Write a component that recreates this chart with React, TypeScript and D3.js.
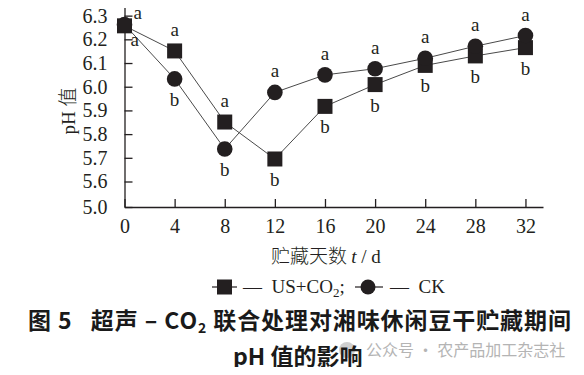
import { useEffect, useRef } from 'react';
import * as d3 from 'd3';

// storage days
const days = [0, 4, 8, 12, 16, 20, 24, 28, 32];
// pH values
const usCo2 = [6.257, 6.151, 5.851, 5.695, 5.917, 6.009, 6.09, 6.13, 6.165];
const ck = [6.262, 6.033, 5.737, 5.976, 6.05, 6.076, 6.12, 6.171, 6.216];
// significance letters
const usCo2Sig = ['a', 'a', 'a', 'b', 'b', 'b', 'b', 'b', 'b'];
const ckSig = ['a', 'b', 'b', 'a', 'a', 'a', 'a', 'a', 'a'];
const yTicks = [5.0, 5.6, 5.7, 5.8, 5.9, 6.0, 6.1, 6.2, 6.3];

const INK = '#231f20';
const SERIF = '"Liberation Serif", "Times New Roman", serif';
const CJK = '"Noto Sans CJK SC", "Noto Sans", sans-serif';
const SP = '\u00a0';

const Chart = () => {
  const svgRef = useRef(null);

  useEffect(() => {
    const svg = d3.select(svgRef.current);
    svg.selectAll('*').remove();

    const x = d3.scaleLinear().domain([0, 33.4]).range([124.5, 543]);
    // broken axis: 5.0 sits just below 5.6
    const y = d3.scaleLinear().domain([5.0, 5.6, 6.366]).range([207, 181.5, 0]);

    const xAxis = d3.axisBottom(x)
      .tickValues(days)
      .tickFormat(d3.format('d'))
      .tickSizeInner(-8)
      .tickSizeOuter(0)
      .tickPadding(12);
    const yAxis = d3.axisLeft(y)
      .tickValues(yTicks)
      .tickFormat(d3.format('.1f'))
      .tickSizeInner(-8)
      .tickSizeOuter(0)
      .tickPadding(17);

    const gx = svg.append('g').attr('transform', 'translate(0,207)').call(xAxis);
    const gy = svg.append('g').attr('transform', 'translate(124.5,0)').call(yAxis);
    [gx, gy].forEach(g => {
      g.selectAll('path, line').attr('stroke', INK).attr('stroke-width', 1.3);
      g.selectAll('text')
        .attr('fill', INK)
        .style('font-family', SERIF)
        .style('font-size', '20px');
    });

    const series = [
      { name: 'us', values: usCo2, sig: usCo2Sig, shape: 'square' },
      { name: 'ck', values: ck, sig: ckSig, shape: 'circle' },
    ];

    const line = d3.line()
      .x((d, i) => x(days[i]))
      .y(d => y(d));

    series.forEach(s => {
      svg.append('path')
        .attr('d', line(s.values))
        .attr('fill', 'none')
        .attr('stroke', '#4a4a4a')
        .attr('stroke-width', 1);
    });

    series.forEach(s => {
      const g = svg.append('g');
      if (s.shape === 'square') {
        g.selectAll('rect').data(s.values).enter()
          .append('rect')
          .attr('x', (d, i) => x(days[i]) - 7.5)
          .attr('y', d => y(d) - 7.5)
          .attr('width', 15)
          .attr('height', 15)
          .attr('fill', INK);
      } else {
        g.selectAll('circle').data(s.values).enter()
          .append('circle')
          .attr('cx', (d, i) => x(days[i]))
          .attr('cy', d => y(d))
          .attr('r', 7.8)
          .attr('fill', INK);
      }
    });

    // letters: higher series above, lower series below
    const labels = svg.append('g')
      .style('font-family', SERIF)
      .style('font-size', '19px')
      .attr('fill', INK);
    days.forEach((day, i) => {
      const upper = usCo2[i] >= ck[i] ? series[0] : series[1];
      const lower = upper === series[0] ? series[1] : series[0];
      const px = x(day);
      if (day === 0) {
        labels.append('text').attr('x', px + 9).attr('y', y(upper.values[i]) - 6).text(upper.sig[i]);
        labels.append('text').attr('x', px + 6).attr('y', y(lower.values[i]) + 20).text(lower.sig[i]);
      } else {
        labels.append('text').attr('x', px).attr('y', y(upper.values[i]) - 15)
          .attr('text-anchor', 'middle').text(upper.sig[i]);
        labels.append('text').attr('x', px).attr('y', y(lower.values[i]) + 27)
          .attr('text-anchor', 'middle').text(lower.sig[i]);
      }
    });

    // axis titles
    const xt = svg.append('text')
      .attr('x', 326).attr('y', 263)
      .attr('text-anchor', 'middle')
      .attr('fill', INK)
      .style('font-size', '19px');
    xt.append('tspan').style('font-family', CJK).style('font-weight', 300).text('贮藏天数' + SP);
    xt.append('tspan').style('font-family', SERIF).style('font-style', 'italic').text('t');
    xt.append('tspan').style('font-family', SERIF).text(SP + '/' + SP + 'd');

    const yt = svg.append('text')
      .attr('transform', 'translate(75,111) rotate(-90)')
      .attr('text-anchor', 'middle')
      .attr('fill', INK)
      .style('font-size', '19px');
    yt.append('tspan').style('font-family', SERIF).text('pH' + SP);
    yt.append('tspan').style('font-family', CJK).style('font-weight', 300).text('值');

    // legend
    const legend = svg.append('g').attr('fill', INK).attr('stroke', INK);
    legend.append('line').attr('x1', 212).attr('x2', 237).attr('y1', 287).attr('y2', 287).attr('stroke-width', 1.2);
    legend.append('rect').attr('x', 217).attr('y', 279.5).attr('width', 15).attr('height', 15).attr('stroke', 'none');
    legend.append('line').attr('x1', 355).attr('x2', 383).attr('y1', 287).attr('y2', 287).attr('stroke-width', 1.2);
    legend.append('circle').attr('cx', 368).attr('cy', 287).attr('r', 7.5).attr('stroke', 'none');
    const lt = svg.append('g')
      .attr('fill', INK)
      .style('font-family', SERIF)
      .style('font-size', '19px');
    const t1 = lt.append('text').attr('x', 243).attr('y', 293);
    t1.append('tspan').text('—' + SP + SP + 'US+CO');
    t1.append('tspan').attr('dy', 4).style('font-size', '13px').text('2');
    t1.append('tspan').attr('dy', -4).text(';');
    lt.append('text').attr('x', 390).attr('y', 293).text('—' + SP + SP + 'CK');

    // watermark
    svg.append('circle').attr('cx', 347).attr('cy', 350).attr('r', 8).attr('fill', '#cfcfcf');
    svg.append('text')
      .attr('x', 366).attr('y', 356)
      .attr('fill', '#b4b4b4')
      .style('font-family', CJK)
      .style('font-size', '16px')
      .text('公众号' + SP + '·' + SP + '农产品加工杂志社');

    // caption
    const cap = svg.append('g')
      .attr('fill', '#1a1a1a')
      .style('font-family', CJK)
      .style('font-weight', 700)
      .style('font-size', '23px');
    const c1 = cap.append('text').attr('x', 28).attr('y', 328.5).style('letter-spacing', '0.9px');
    c1.append('tspan').text('图' + SP + '5' + SP + SP + SP + '超声' + SP + '–' + SP + 'CO');
    c1.append('tspan').attr('dy', 4).style('font-size', '14px').text('2');
    c1.append('tspan').attr('dy', -4).text(SP + '联合处理对湘味休闲豆干贮藏期间');
    cap.append('text').attr('x', 233).attr('y', 365).text('pH' + SP + '值的影响');
  }, []);

  return <svg ref={svgRef} width={584} height={375} style={{ display: 'block' }}></svg>;
};

export default function App() {
  return (
    <div style={{ margin: -8, width: 584, height: 375, background: '#fff', overflow: 'hidden' }}>
      <Chart />
    </div>
  );
}
